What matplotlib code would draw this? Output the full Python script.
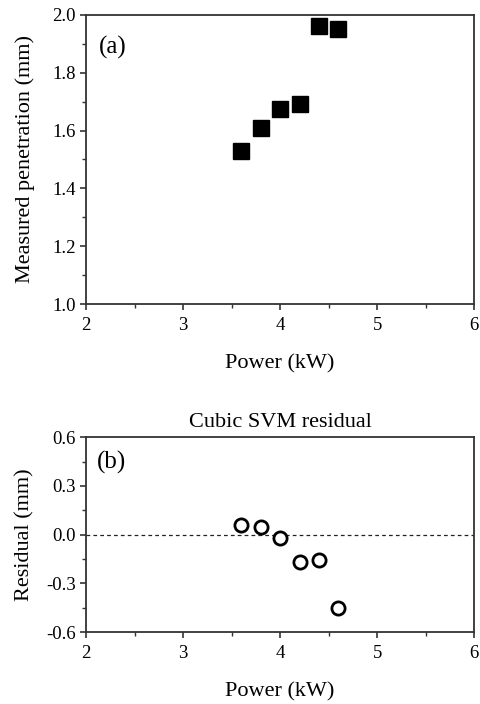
import matplotlib
matplotlib.use("Agg")
import matplotlib.pyplot as plt
from matplotlib.ticker import MultipleLocator, FormatStrFormatter

plt.rcParams['font.family'] = ['Liberation Serif', 'DejaVu Serif']
plt.rcParams['axes.unicode_minus'] = False

power = [3.6, 3.8, 4.0, 4.2, 4.4, 4.6]
penetration = [1.53, 1.61, 1.675, 1.69, 1.96, 1.952]
residual = [0.057, 0.049, -0.02, -0.17, -0.155, -0.45]

AX = "#333333"

fig = plt.figure(figsize=(4.81, 7.04), dpi=100)
ax1 = fig.add_axes([0.179, 0.568, 0.807, 0.411])
ax2 = fig.add_axes([0.179, 0.102, 0.807, 0.277])


def style(ax, xlab_y):
    for s in ax.spines.values():
        s.set_color(AX)
        s.set_linewidth(1.3)
    ax.tick_params(which='both', direction='out', top=False, right=False,
                   color=AX, labelsize=13.5)
    ax.tick_params(axis='x', which='major', pad=5)
    ax.tick_params(axis='y', which='major', pad=3)
    ax.tick_params(which='major', length=4.5, width=1.2)
    ax.tick_params(which='minor', length=3, width=1.0)
    ax.set_xlim(2, 6)
    ax.xaxis.set_major_locator(MultipleLocator(1))
    ax.xaxis.set_minor_locator(MultipleLocator(0.5))
    ax.set_xlabel("Power (kW)", fontsize=16, va='center')
    ax.xaxis.set_label_coords(0.5, xlab_y)


ax1.plot(power, penetration, 's', color='black', markersize=12, zorder=3)
style(ax1, -0.205)
ax1.set_ylim(1.0, 2.0)
ax1.yaxis.set_major_locator(MultipleLocator(0.2))
ax1.yaxis.set_minor_locator(MultipleLocator(0.1))
ax1.yaxis.set_major_formatter(FormatStrFormatter('%.1f'))
ax1.set_ylabel("Measured penetration (mm)", fontsize=16, va='center')
ax1.yaxis.set_label_coords(-0.158, 0.5)
ax1.text(0.034, 0.886, "(a)", transform=ax1.transAxes, fontsize=18, va='center')

ax2.axhline(0, color='#222222', linestyle=(0, (3, 2.5)), linewidth=0.9, zorder=1)
ax2.plot(power, residual, 'o', markerfacecolor='white', markeredgecolor='black',
         markeredgewidth=2.0, markersize=9.5, zorder=3)
style(ax2, -0.305)
ax2.set_ylim(-0.6, 0.6)
ax2.yaxis.set_major_locator(MultipleLocator(0.3))
ax2.yaxis.set_minor_locator(MultipleLocator(0.15))
ax2.yaxis.set_major_formatter(FormatStrFormatter('%.1f'))
ax2.set_ylabel("Residual (mm)", fontsize=16, va='center')
ax2.yaxis.set_label_coords(-0.158, 0.5)
ax2.set_title("Cubic SVM residual", fontsize=16, pad=7)
ax2.text(0.028, 0.872, "(b)", transform=ax2.transAxes, fontsize=18, va='center')

fig.savefig("out.png", dpi=100, facecolor='white')
